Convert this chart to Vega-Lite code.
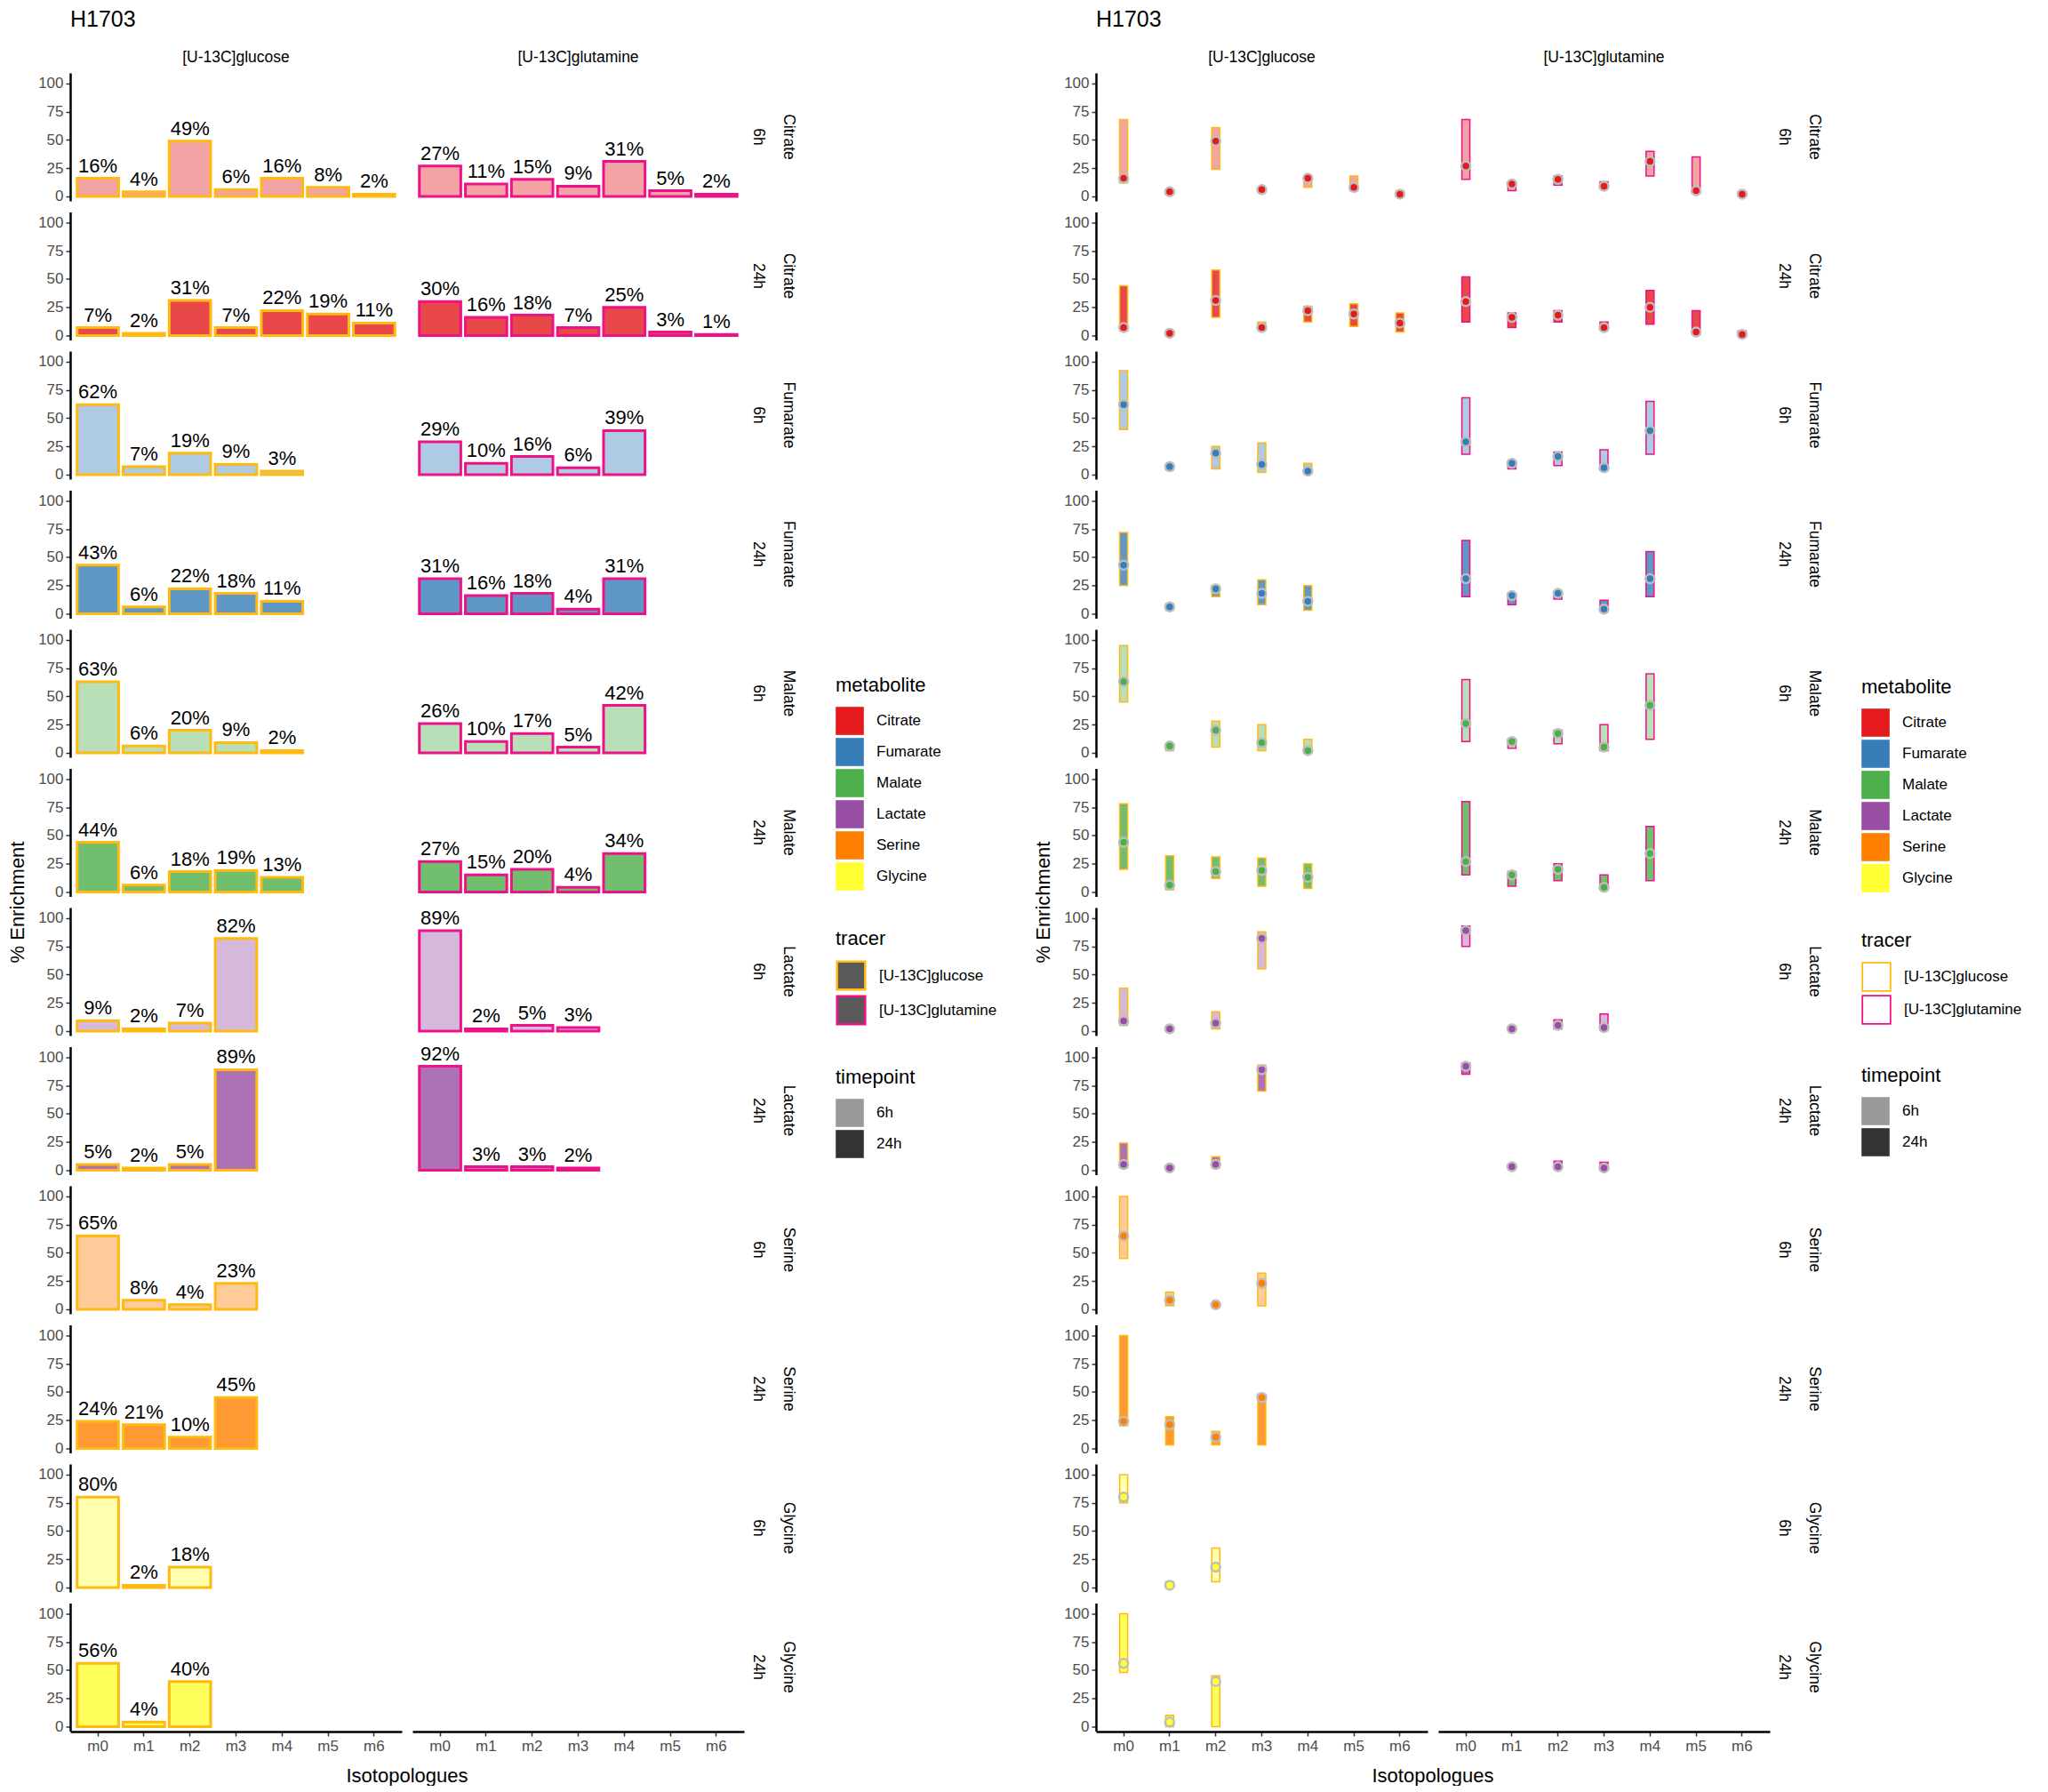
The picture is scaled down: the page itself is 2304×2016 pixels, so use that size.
{
  "$schema": "https://vega.github.io/schema/vega-lite/v6.json",
  "padding": {"left": 8, "top": 9, "right": 0, "bottom": 0},
  "datasets": {
    "iso": [
      {"metabolite": "Citrate", "timepoint": "6h", "tracer": "[U-13C]glucose", "iso": "m0", "pct": 16, "lo": 12, "hi": 68},
      {"metabolite": "Citrate", "timepoint": "6h", "tracer": "[U-13C]glucose", "iso": "m1", "pct": 4, "lo": 2, "hi": 5},
      {"metabolite": "Citrate", "timepoint": "6h", "tracer": "[U-13C]glucose", "iso": "m2", "pct": 49, "lo": 24, "hi": 61},
      {"metabolite": "Citrate", "timepoint": "6h", "tracer": "[U-13C]glucose", "iso": "m3", "pct": 6, "lo": 4, "hi": 8},
      {"metabolite": "Citrate", "timepoint": "6h", "tracer": "[U-13C]glucose", "iso": "m4", "pct": 16, "lo": 8, "hi": 18},
      {"metabolite": "Citrate", "timepoint": "6h", "tracer": "[U-13C]glucose", "iso": "m5", "pct": 8, "lo": 5, "hi": 18},
      {"metabolite": "Citrate", "timepoint": "6h", "tracer": "[U-13C]glucose", "iso": "m6", "pct": 2, "lo": 1, "hi": 5},
      {"metabolite": "Citrate", "timepoint": "6h", "tracer": "[U-13C]glutamine", "iso": "m0", "pct": 27, "lo": 15, "hi": 68},
      {"metabolite": "Citrate", "timepoint": "6h", "tracer": "[U-13C]glutamine", "iso": "m1", "pct": 11, "lo": 5, "hi": 12},
      {"metabolite": "Citrate", "timepoint": "6h", "tracer": "[U-13C]glutamine", "iso": "m2", "pct": 15, "lo": 10, "hi": 18},
      {"metabolite": "Citrate", "timepoint": "6h", "tracer": "[U-13C]glutamine", "iso": "m3", "pct": 9, "lo": 8, "hi": 13},
      {"metabolite": "Citrate", "timepoint": "6h", "tracer": "[U-13C]glutamine", "iso": "m4", "pct": 31, "lo": 18, "hi": 40},
      {"metabolite": "Citrate", "timepoint": "6h", "tracer": "[U-13C]glutamine", "iso": "m5", "pct": 5, "lo": 3, "hi": 35},
      {"metabolite": "Citrate", "timepoint": "6h", "tracer": "[U-13C]glutamine", "iso": "m6", "pct": 2, "lo": 1, "hi": 4},
      {"metabolite": "Citrate", "timepoint": "24h", "tracer": "[U-13C]glucose", "iso": "m0", "pct": 7, "lo": 4, "hi": 44},
      {"metabolite": "Citrate", "timepoint": "24h", "tracer": "[U-13C]glucose", "iso": "m1", "pct": 2, "lo": 1, "hi": 4},
      {"metabolite": "Citrate", "timepoint": "24h", "tracer": "[U-13C]glucose", "iso": "m2", "pct": 31, "lo": 16, "hi": 58},
      {"metabolite": "Citrate", "timepoint": "24h", "tracer": "[U-13C]glucose", "iso": "m3", "pct": 7, "lo": 5, "hi": 12},
      {"metabolite": "Citrate", "timepoint": "24h", "tracer": "[U-13C]glucose", "iso": "m4", "pct": 22, "lo": 12, "hi": 26},
      {"metabolite": "Citrate", "timepoint": "24h", "tracer": "[U-13C]glucose", "iso": "m5", "pct": 19, "lo": 8, "hi": 28},
      {"metabolite": "Citrate", "timepoint": "24h", "tracer": "[U-13C]glucose", "iso": "m6", "pct": 11, "lo": 3, "hi": 20},
      {"metabolite": "Citrate", "timepoint": "24h", "tracer": "[U-13C]glutamine", "iso": "m0", "pct": 30, "lo": 12, "hi": 52},
      {"metabolite": "Citrate", "timepoint": "24h", "tracer": "[U-13C]glutamine", "iso": "m1", "pct": 16, "lo": 7, "hi": 20},
      {"metabolite": "Citrate", "timepoint": "24h", "tracer": "[U-13C]glutamine", "iso": "m2", "pct": 18, "lo": 12, "hi": 22},
      {"metabolite": "Citrate", "timepoint": "24h", "tracer": "[U-13C]glutamine", "iso": "m3", "pct": 7, "lo": 5, "hi": 12},
      {"metabolite": "Citrate", "timepoint": "24h", "tracer": "[U-13C]glutamine", "iso": "m4", "pct": 25, "lo": 10, "hi": 40},
      {"metabolite": "Citrate", "timepoint": "24h", "tracer": "[U-13C]glutamine", "iso": "m5", "pct": 3, "lo": 1, "hi": 22},
      {"metabolite": "Citrate", "timepoint": "24h", "tracer": "[U-13C]glutamine", "iso": "m6", "pct": 1, "lo": 0, "hi": 4},
      {"metabolite": "Fumarate", "timepoint": "6h", "tracer": "[U-13C]glucose", "iso": "m0", "pct": 62, "lo": 40, "hi": 92},
      {"metabolite": "Fumarate", "timepoint": "6h", "tracer": "[U-13C]glucose", "iso": "m1", "pct": 7, "lo": 4, "hi": 8},
      {"metabolite": "Fumarate", "timepoint": "6h", "tracer": "[U-13C]glucose", "iso": "m2", "pct": 19, "lo": 5, "hi": 25},
      {"metabolite": "Fumarate", "timepoint": "6h", "tracer": "[U-13C]glucose", "iso": "m3", "pct": 9, "lo": 2, "hi": 28},
      {"metabolite": "Fumarate", "timepoint": "6h", "tracer": "[U-13C]glucose", "iso": "m4", "pct": 3, "lo": 1, "hi": 10},
      {"metabolite": "Fumarate", "timepoint": "6h", "tracer": "[U-13C]glutamine", "iso": "m0", "pct": 29, "lo": 18, "hi": 68},
      {"metabolite": "Fumarate", "timepoint": "6h", "tracer": "[U-13C]glutamine", "iso": "m1", "pct": 10, "lo": 5, "hi": 12},
      {"metabolite": "Fumarate", "timepoint": "6h", "tracer": "[U-13C]glutamine", "iso": "m2", "pct": 16, "lo": 8, "hi": 20},
      {"metabolite": "Fumarate", "timepoint": "6h", "tracer": "[U-13C]glutamine", "iso": "m3", "pct": 6, "lo": 4, "hi": 22},
      {"metabolite": "Fumarate", "timepoint": "6h", "tracer": "[U-13C]glutamine", "iso": "m4", "pct": 39, "lo": 18, "hi": 65},
      {"metabolite": "Fumarate", "timepoint": "24h", "tracer": "[U-13C]glucose", "iso": "m0", "pct": 43, "lo": 25, "hi": 72},
      {"metabolite": "Fumarate", "timepoint": "24h", "tracer": "[U-13C]glucose", "iso": "m1", "pct": 6, "lo": 3, "hi": 9},
      {"metabolite": "Fumarate", "timepoint": "24h", "tracer": "[U-13C]glucose", "iso": "m2", "pct": 22, "lo": 15, "hi": 25},
      {"metabolite": "Fumarate", "timepoint": "24h", "tracer": "[U-13C]glucose", "iso": "m3", "pct": 18, "lo": 8, "hi": 30},
      {"metabolite": "Fumarate", "timepoint": "24h", "tracer": "[U-13C]glucose", "iso": "m4", "pct": 11, "lo": 3, "hi": 25},
      {"metabolite": "Fumarate", "timepoint": "24h", "tracer": "[U-13C]glutamine", "iso": "m0", "pct": 31, "lo": 15, "hi": 65},
      {"metabolite": "Fumarate", "timepoint": "24h", "tracer": "[U-13C]glutamine", "iso": "m1", "pct": 16, "lo": 8, "hi": 18},
      {"metabolite": "Fumarate", "timepoint": "24h", "tracer": "[U-13C]glutamine", "iso": "m2", "pct": 18, "lo": 13, "hi": 20},
      {"metabolite": "Fumarate", "timepoint": "24h", "tracer": "[U-13C]glutamine", "iso": "m3", "pct": 4, "lo": 4, "hi": 12},
      {"metabolite": "Fumarate", "timepoint": "24h", "tracer": "[U-13C]glutamine", "iso": "m4", "pct": 31, "lo": 15, "hi": 55},
      {"metabolite": "Malate", "timepoint": "6h", "tracer": "[U-13C]glucose", "iso": "m0", "pct": 63, "lo": 45, "hi": 95},
      {"metabolite": "Malate", "timepoint": "6h", "tracer": "[U-13C]glucose", "iso": "m1", "pct": 6, "lo": 2, "hi": 8},
      {"metabolite": "Malate", "timepoint": "6h", "tracer": "[U-13C]glucose", "iso": "m2", "pct": 20, "lo": 5, "hi": 28},
      {"metabolite": "Malate", "timepoint": "6h", "tracer": "[U-13C]glucose", "iso": "m3", "pct": 9, "lo": 2, "hi": 25},
      {"metabolite": "Malate", "timepoint": "6h", "tracer": "[U-13C]glucose", "iso": "m4", "pct": 2, "lo": 0, "hi": 12},
      {"metabolite": "Malate", "timepoint": "6h", "tracer": "[U-13C]glutamine", "iso": "m0", "pct": 26, "lo": 10, "hi": 65},
      {"metabolite": "Malate", "timepoint": "6h", "tracer": "[U-13C]glutamine", "iso": "m1", "pct": 10, "lo": 4, "hi": 12},
      {"metabolite": "Malate", "timepoint": "6h", "tracer": "[U-13C]glutamine", "iso": "m2", "pct": 17, "lo": 8, "hi": 20},
      {"metabolite": "Malate", "timepoint": "6h", "tracer": "[U-13C]glutamine", "iso": "m3", "pct": 5, "lo": 2, "hi": 25},
      {"metabolite": "Malate", "timepoint": "6h", "tracer": "[U-13C]glutamine", "iso": "m4", "pct": 42, "lo": 12, "hi": 70},
      {"metabolite": "Malate", "timepoint": "24h", "tracer": "[U-13C]glucose", "iso": "m0", "pct": 44, "lo": 20, "hi": 78},
      {"metabolite": "Malate", "timepoint": "24h", "tracer": "[U-13C]glucose", "iso": "m1", "pct": 6, "lo": 2, "hi": 32},
      {"metabolite": "Malate", "timepoint": "24h", "tracer": "[U-13C]glucose", "iso": "m2", "pct": 18, "lo": 12, "hi": 31},
      {"metabolite": "Malate", "timepoint": "24h", "tracer": "[U-13C]glucose", "iso": "m3", "pct": 19, "lo": 5, "hi": 30},
      {"metabolite": "Malate", "timepoint": "24h", "tracer": "[U-13C]glucose", "iso": "m4", "pct": 13, "lo": 3, "hi": 25},
      {"metabolite": "Malate", "timepoint": "24h", "tracer": "[U-13C]glutamine", "iso": "m0", "pct": 27, "lo": 15, "hi": 80},
      {"metabolite": "Malate", "timepoint": "24h", "tracer": "[U-13C]glutamine", "iso": "m1", "pct": 15, "lo": 5, "hi": 18},
      {"metabolite": "Malate", "timepoint": "24h", "tracer": "[U-13C]glutamine", "iso": "m2", "pct": 20, "lo": 10, "hi": 25},
      {"metabolite": "Malate", "timepoint": "24h", "tracer": "[U-13C]glutamine", "iso": "m3", "pct": 4, "lo": 3, "hi": 15},
      {"metabolite": "Malate", "timepoint": "24h", "tracer": "[U-13C]glutamine", "iso": "m4", "pct": 34, "lo": 10, "hi": 58},
      {"metabolite": "Lactate", "timepoint": "6h", "tracer": "[U-13C]glucose", "iso": "m0", "pct": 9, "lo": 5, "hi": 38},
      {"metabolite": "Lactate", "timepoint": "6h", "tracer": "[U-13C]glucose", "iso": "m1", "pct": 2, "lo": 1, "hi": 4},
      {"metabolite": "Lactate", "timepoint": "6h", "tracer": "[U-13C]glucose", "iso": "m2", "pct": 7, "lo": 2, "hi": 17},
      {"metabolite": "Lactate", "timepoint": "6h", "tracer": "[U-13C]glucose", "iso": "m3", "pct": 82, "lo": 55, "hi": 88},
      {"metabolite": "Lactate", "timepoint": "6h", "tracer": "[U-13C]glutamine", "iso": "m0", "pct": 89, "lo": 75, "hi": 93},
      {"metabolite": "Lactate", "timepoint": "6h", "tracer": "[U-13C]glutamine", "iso": "m1", "pct": 2, "lo": 2, "hi": 4},
      {"metabolite": "Lactate", "timepoint": "6h", "tracer": "[U-13C]glutamine", "iso": "m2", "pct": 5, "lo": 2, "hi": 10},
      {"metabolite": "Lactate", "timepoint": "6h", "tracer": "[U-13C]glutamine", "iso": "m3", "pct": 3, "lo": 1, "hi": 15},
      {"metabolite": "Lactate", "timepoint": "24h", "tracer": "[U-13C]glucose", "iso": "m0", "pct": 5, "lo": 2, "hi": 24},
      {"metabolite": "Lactate", "timepoint": "24h", "tracer": "[U-13C]glucose", "iso": "m1", "pct": 2, "lo": 1, "hi": 4},
      {"metabolite": "Lactate", "timepoint": "24h", "tracer": "[U-13C]glucose", "iso": "m2", "pct": 5, "lo": 2, "hi": 12},
      {"metabolite": "Lactate", "timepoint": "24h", "tracer": "[U-13C]glucose", "iso": "m3", "pct": 89, "lo": 70, "hi": 93},
      {"metabolite": "Lactate", "timepoint": "24h", "tracer": "[U-13C]glutamine", "iso": "m0", "pct": 92, "lo": 85, "hi": 95},
      {"metabolite": "Lactate", "timepoint": "24h", "tracer": "[U-13C]glutamine", "iso": "m1", "pct": 3, "lo": 2, "hi": 5},
      {"metabolite": "Lactate", "timepoint": "24h", "tracer": "[U-13C]glutamine", "iso": "m2", "pct": 3, "lo": 1, "hi": 8},
      {"metabolite": "Lactate", "timepoint": "24h", "tracer": "[U-13C]glutamine", "iso": "m3", "pct": 2, "lo": 0, "hi": 7},
      {"metabolite": "Serine", "timepoint": "6h", "tracer": "[U-13C]glucose", "iso": "m0", "pct": 65, "lo": 45, "hi": 100},
      {"metabolite": "Serine", "timepoint": "6h", "tracer": "[U-13C]glucose", "iso": "m1", "pct": 8, "lo": 3, "hi": 15},
      {"metabolite": "Serine", "timepoint": "6h", "tracer": "[U-13C]glucose", "iso": "m2", "pct": 4, "lo": 2, "hi": 6},
      {"metabolite": "Serine", "timepoint": "6h", "tracer": "[U-13C]glucose", "iso": "m3", "pct": 23, "lo": 3, "hi": 32},
      {"metabolite": "Serine", "timepoint": "24h", "tracer": "[U-13C]glucose", "iso": "m0", "pct": 24, "lo": 20, "hi": 100},
      {"metabolite": "Serine", "timepoint": "24h", "tracer": "[U-13C]glucose", "iso": "m1", "pct": 21, "lo": 3, "hi": 28},
      {"metabolite": "Serine", "timepoint": "24h", "tracer": "[U-13C]glucose", "iso": "m2", "pct": 10, "lo": 3, "hi": 15},
      {"metabolite": "Serine", "timepoint": "24h", "tracer": "[U-13C]glucose", "iso": "m3", "pct": 45, "lo": 3, "hi": 48},
      {"metabolite": "Glycine", "timepoint": "6h", "tracer": "[U-13C]glucose", "iso": "m0", "pct": 80, "lo": 75, "hi": 100},
      {"metabolite": "Glycine", "timepoint": "6h", "tracer": "[U-13C]glucose", "iso": "m1", "pct": 2, "lo": 2, "hi": 5},
      {"metabolite": "Glycine", "timepoint": "6h", "tracer": "[U-13C]glucose", "iso": "m2", "pct": 18, "lo": 5, "hi": 35},
      {"metabolite": "Glycine", "timepoint": "24h", "tracer": "[U-13C]glucose", "iso": "m0", "pct": 56, "lo": 48, "hi": 100},
      {"metabolite": "Glycine", "timepoint": "24h", "tracer": "[U-13C]glucose", "iso": "m1", "pct": 4, "lo": 0, "hi": 10},
      {"metabolite": "Glycine", "timepoint": "24h", "tracer": "[U-13C]glucose", "iso": "m2", "pct": 40, "lo": 0, "hi": 45}
    ]
  },
  "data": {"name": "iso"},
  "transform": [
    {"calculate": "indexof(['Citrate','Fumarate','Malate','Lactate','Serine','Glycine'], datum.metabolite) * 2 + (datum.timepoint == '24h' ? 1 : 0)", "as": "panel"}
  ],
  "spacing": 40,
  "hconcat": [
    {
      "title": {"text": "H1703"},
      "bounds": "flush",
      "spacing": {"row": 12.5, "column": 12},
      "facet": {
        "row": {"field": "panel", "type": "ordinal", "header": {"title": "% Enrichment"}},
        "column": {"field": "tracer", "type": "nominal", "header": {"title": "Isotopologues"}}
      },
      "spec": {
        "width": 373,
        "height": 144,
        "encoding": {
          "x": {"field": "iso", "type": "nominal",
            "scale": {"domain": ["m0","m1","m2","m3","m4","m5","m6"], "paddingInner": 0.1, "paddingOuter": 0.15},
            "axis": {"title": null, "labelAngle": 0}},
          "y": {"field": "pct", "type": "quantitative",
            "scale": {"domain": [-4, 109.4], "nice": false, "zero": false},
            "axis": {"title": null, "values": [0, 25, 50, 75, 100]}}
        },
        "layer": [
          {
            "mark": {"type": "bar", "strokeWidth": 3},
            "encoding": {
              "fill": {"field": "metabolite", "type": "nominal",
                "scale": {"domain": ["Citrate","Fumarate","Malate","Lactate","Serine","Glycine"],
                  "range": ["#E41A1C","#377EB8","#4DAF4A","#984EA3","#FF7F00","#FFFF33"]},
                "legend": {"title": "metabolite", "symbolOpacity": 1}},
              "fillOpacity": {"field": "timepoint", "type": "nominal",
                "scale": {"domain": ["6h", "24h"], "range": [0.4, 0.8]}, "legend": null},
              "stroke": {"field": "tracer", "type": "nominal",
                "scale": {"domain": ["[U-13C]glucose", "[U-13C]glutamine"], "range": ["#FFB90F", "#EE1289"]},
                "legend": {"title": "tracer", "symbolFillColor": "#595959", "symbolStrokeWidth": 2.5, "rowPadding": -11}}
            }
          },
          {
            "transform": [{"calculate": "format(datum.pct, 'd') + '%'", "as": "label"}],
            "mark": {"type": "text", "baseline": "bottom", "dy": -2, "fontSize": 22, "color": "#000000"},
            "encoding": {"text": {"field": "label", "type": "nominal"}}
          },
          {
            "mark": {"type": "bar", "fill": "#000000", "strokeWidth": 0},
            "encoding": {
              "y": {"datum": 0},
              "opacity": {"field": "timepoint", "type": "nominal",
                "scale": {"domain": ["6h", "24h"], "range": [0.4, 0.8]},
                "legend": {"title": "timepoint", "symbolFillColor": "#000000", "symbolStrokeWidth": 0}}
            }
          }
        ]
      }
    },
    {
      "title": {"text": "H1703"},
      "bounds": "flush",
      "spacing": {"row": 12.5, "column": 12},
      "facet": {
        "row": {"field": "panel", "type": "ordinal", "header": {"title": "% Enrichment"}},
        "column": {"field": "tracer", "type": "nominal", "header": {"title": "Isotopologues"}}
      },
      "spec": {
        "width": 373,
        "height": 144,
        "encoding": {
          "x": {"field": "iso", "type": "nominal",
            "scale": {"domain": ["m0","m1","m2","m3","m4","m5","m6"], "paddingInner": 0.1, "paddingOuter": 0.15},
            "axis": {"title": null, "labelAngle": 0}}
        },
        "layer": [
          {
            "mark": {"type": "bar", "width": 9, "strokeWidth": 1.5},
            "encoding": {
              "y": {"field": "lo", "type": "quantitative",
                "scale": {"domain": [-4, 109.4], "nice": false, "zero": false},
                "axis": {"title": null, "values": [0, 25, 50, 75, 100]}},
              "y2": {"field": "hi"},
              "fill": {"field": "metabolite", "type": "nominal",
                "scale": {"domain": ["Citrate","Fumarate","Malate","Lactate","Serine","Glycine"],
                  "range": ["#E41A1C","#377EB8","#4DAF4A","#984EA3","#FF7F00","#FFFF33"]},
                "legend": {"title": "metabolite", "symbolOpacity": 1}},
              "fillOpacity": {"field": "timepoint", "type": "nominal",
                "scale": {"domain": ["6h", "24h"], "range": [0.4, 0.8]}, "legend": null},
              "stroke": {"field": "tracer", "type": "nominal",
                "scale": {"domain": ["[U-13C]glucose", "[U-13C]glutamine"], "range": ["#FFB90F", "#EE1289"]},
                "legend": {"title": "tracer", "symbolFillColor": "#FFFFFF", "symbolStrokeWidth": 1.8, "rowPadding": -5}}
            }
          },
          {
            "mark": {"type": "point", "filled": true, "size": 100, "opacity": 1, "stroke": "#BDBDBD", "strokeWidth": 2.5},
            "encoding": {
              "y": {"field": "pct", "type": "quantitative",
                "axis": {"title": null, "values": [0, 25, 50, 75, 100]}},
              "fill": {"field": "metabolite", "type": "nominal", "legend": {"title": "metabolite", "symbolOpacity": 1}}
            }
          },
          {
            "mark": {"type": "bar", "fill": "#000000", "strokeWidth": 0},
            "encoding": {
              "y": {"datum": 0, "axis": {"title": null, "values": [0, 25, 50, 75, 100]}},
              "opacity": {"field": "timepoint", "type": "nominal",
                "scale": {"domain": ["6h", "24h"], "range": [0.4, 0.8]},
                "legend": {"title": "timepoint", "symbolFillColor": "#000000", "symbolStrokeWidth": 0}}
            }
          }
        ]
      }
    }
  ],
  "resolve": {"legend": {"fill": "independent", "stroke": "independent", "opacity": "independent"}},
  "config": {
    "font": "Liberation Sans",
    "view": {"stroke": null},
    "title": {"anchor": "start", "fontSize": 25, "fontWeight": "normal", "color": "#000000", "offset": 21, "dx": 70},
    "axis": {"labelFontSize": 17, "labelColor": "#4D4D4D", "tickColor": "#333333", "tickWidth": 1.5, "tickSize": 5,
      "domainColor": "#000000", "domainWidth": 2.5, "grid": false, "labelPadding": 3},
    "header": {"labelFontSize": 17.5, "labelColor": "#000000", "titleFontSize": 22, "titleFontWeight": "normal", "titleColor": "#000000"},
    "headerRow": {"titleOrient": "left", "labelOrient": "right", "labelAngle": 90, "labelLineHeight": 34, "labelPadding": 7, "titlePadding": 0,
      "labelExpr": "[['Citrate','Fumarate','Malate','Lactate','Serine','Glycine'][floor(datum.value / 2)], datum.value % 2 == 1 ? '24h' : '6h']"},
    "headerColumn": {"titleOrient": "bottom", "labelOrient": "top", "labelPadding": 9, "titlePadding": 6},
    "legend": {"titleFontSize": 22, "titleFontWeight": "normal", "titleColor": "#000000", "labelFontSize": 17, "labelColor": "#000000",
      "symbolSize": 1000, "symbolType": "square", "symbolStrokeWidth": 0, "rowPadding": 3, "titlePadding": 12,
      "labelOffset": 14, "offset": 44, "layout": {"right": {"anchor": "middle", "direction": "vertical", "margin": 44}}}
  }
}
